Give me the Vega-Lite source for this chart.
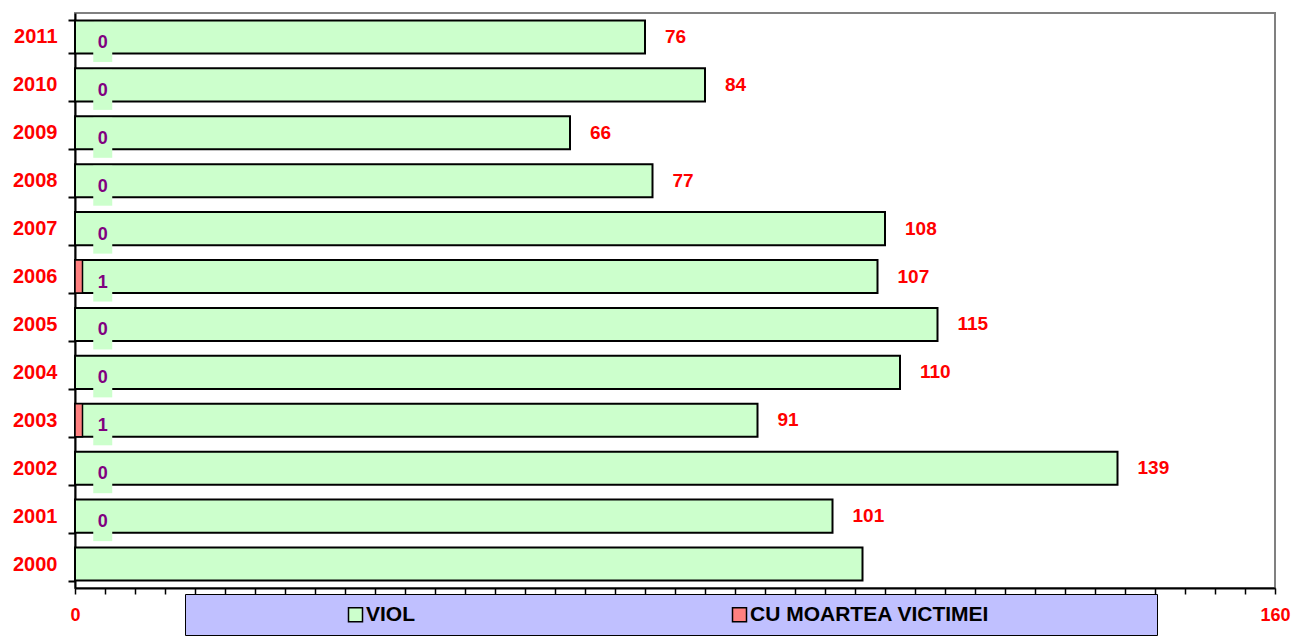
{
  "$schema": "https://vega.github.io/schema/vega-lite/v6.json",
  "width": 1200,
  "height": 575,
  "autosize": {"type": "none"},
  "padding": {"left": 75, "top": 13, "right": 21, "bottom": 48},
  "background": "white",
  "config": {
    "view": {"stroke": "#808080", "strokeWidth": 2},
    "font": "Liberation Sans"
  },
  "data": {
    "values": [
      {"year": "2011", "series": "VIOL", "value": 76},
      {"year": "2010", "series": "VIOL", "value": 84},
      {"year": "2009", "series": "VIOL", "value": 66},
      {"year": "2008", "series": "VIOL", "value": 77},
      {"year": "2007", "series": "VIOL", "value": 108},
      {"year": "2006", "series": "VIOL", "value": 107},
      {"year": "2005", "series": "VIOL", "value": 115},
      {"year": "2004", "series": "VIOL", "value": 110},
      {"year": "2003", "series": "VIOL", "value": 91},
      {"year": "2002", "series": "VIOL", "value": 139},
      {"year": "2001", "series": "VIOL", "value": 101},
      {"year": "2000", "series": "VIOL", "value": 105},
      {"year": "2011", "series": "CU MOARTEA VICTIMEI", "value": 0},
      {"year": "2010", "series": "CU MOARTEA VICTIMEI", "value": 0},
      {"year": "2009", "series": "CU MOARTEA VICTIMEI", "value": 0},
      {"year": "2008", "series": "CU MOARTEA VICTIMEI", "value": 0},
      {"year": "2007", "series": "CU MOARTEA VICTIMEI", "value": 0},
      {"year": "2006", "series": "CU MOARTEA VICTIMEI", "value": 1},
      {"year": "2005", "series": "CU MOARTEA VICTIMEI", "value": 0},
      {"year": "2004", "series": "CU MOARTEA VICTIMEI", "value": 0},
      {"year": "2003", "series": "CU MOARTEA VICTIMEI", "value": 1},
      {"year": "2002", "series": "CU MOARTEA VICTIMEI", "value": 0},
      {"year": "2001", "series": "CU MOARTEA VICTIMEI", "value": 0}
    ]
  },
  "encoding": {
    "y": {
      "field": "year",
      "type": "ordinal",
      "sort": "descending",
      "scale": {"paddingInner": 0.31, "paddingOuter": 0.155},
      "axis": {
        "title": null,
        "grid": false,
        "domainColor": "black",
        "domainWidth": 2,
        "tickColor": "black",
        "tickWidth": 2,
        "tickSize": 7,
        "tickBand": "extent",
        "labelColor": "#ff0000",
        "labelFont": "Liberation Sans",
        "labelFontWeight": "bold",
        "labelFontSize": 20,
        "labelPadding": 11
      }
    },
    "x": {
      "field": "value",
      "type": "quantitative",
      "scale": {"domain": [0, 160], "nice": false},
      "axis": {
        "title": null,
        "grid": false,
        "values": [0,4,8,12,16,20,24,28,32,36,40,44,48,52,56,60,64,68,72,76,80,84,88,92,96,100,104,108,112,116,120,124,128,132,136,140,144,148,152,156,160],
        "labelExpr": "datum.value == 0 || datum.value == 160 ? datum.label : ''",
        "labelFlush": false,
        "labelOverlap": false,
        "domainColor": "black",
        "domainWidth": 2,
        "tickColor": "black",
        "tickWidth": 1.5,
        "tickSize": 6,
        "labelColor": "#ff0000",
        "labelFont": "Liberation Sans",
        "labelFontWeight": "bold",
        "labelFontSize": 18,
        "labelPadding": 12
      }
    }
  },
  "layer": [
    {
      "transform": [{"filter": "datum.series == 'VIOL'"}],
      "mark": {"type": "bar", "stroke": "black", "strokeWidth": 2, "opacity": 1},
      "encoding": {
        "color": {
          "field": "series",
          "type": "nominal",
          "scale": {"domain": ["VIOL", "CU MOARTEA VICTIMEI"], "range": ["#ccffcc", "#ff8080"]},
          "legend": {
            "title": null,
            "orient": "none",
            "legendX": 110,
            "legendY": 581,
            "direction": "horizontal",
            "columns": 2,
            "fillColor": "#c0c0ff",
            "strokeColor": "black",
            "padding": 10,
            "symbolType": "square",
            "symbolSize": 196,
            "symbolStrokeColor": "black",
            "symbolStrokeWidth": 1.5,
            "symbolOpacity": 1,
            "symbolOffset": 150,
            "labelOffset": 0,
            "columnPadding": 163,
            "labelLimit": 0,
            "labelFont": "Liberation Sans",
            "labelFontWeight": "bold",
            "labelFontSize": 21,
            "labelColor": "black",
            "labelExpr": "datum.label == 'VIOL' ? datum.label : datum.label + '\u00a0\u00a0\u00a0\u00a0\u00a0\u00a0\u00a0\u00a0\u00a0\u00a0\u00a0\u00a0\u00a0\u00a0\u00a0\u00a0\u00a0\u00a0\u00a0\u00a0\u00a0\u00a0\u00a0\u00a0\u00a0\u00a0\u00a0\u200b'"
          }
        }
      }
    },
    {
      "transform": [{"filter": "datum.series != 'VIOL' && datum.value > 0"}],
      "mark": {"type": "bar", "stroke": "black", "strokeWidth": 1.5, "opacity": 1},
      "encoding": {
        "color": {"field": "series", "type": "nominal"}
      }
    },
    {
      "transform": [{"filter": "datum.series != 'VIOL'"}],
      "mark": {"type": "tick", "color": "#ccffcc", "opacity": 1, "thickness": 19, "size": 40, "yOffset": 5},
      "encoding": {
        "x": {"datum": 3.7, "type": "quantitative"}
      }
    },
    {
      "transform": [{"filter": "datum.series != 'VIOL'"}],
      "mark": {"type": "text", "color": "#800080", "font": "Liberation Sans", "fontWeight": "bold", "fontSize": 18, "dy": 6},
      "encoding": {
        "x": {"datum": 3.7, "type": "quantitative"},
        "text": {"field": "value", "type": "quantitative"}
      }
    },
    {
      "transform": [{"filter": "datum.series == 'VIOL' && datum.year != '2000'"}],
      "mark": {"type": "text", "color": "#ff0000", "font": "Liberation Sans", "fontWeight": "bold", "fontSize": 19, "align": "left", "dx": 20},
      "encoding": {
        "text": {"field": "value", "type": "quantitative"}
      }
    }
  ]
}
